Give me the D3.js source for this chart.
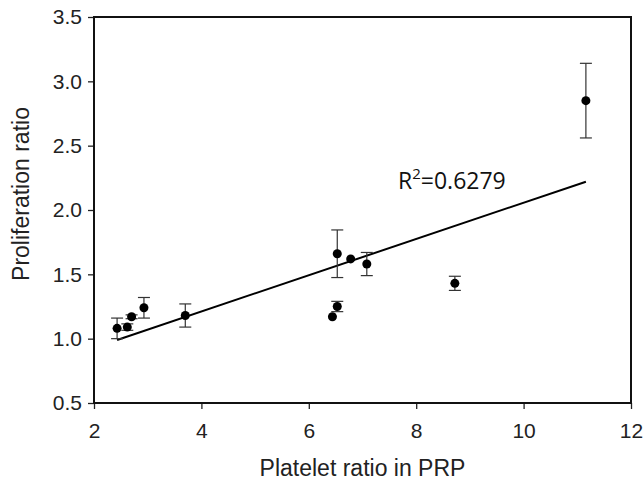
<!DOCTYPE html>
<html>
<head>
  <meta charset="utf-8">
  <title>Proliferation ratio vs platelet ratio</title>
  <script src="https://cdn.jsdelivr.net/npm/d3@7"></script>
  <style>
    body { margin: 0; background: #fff; }
    svg { display: block; }
  </style>
</head>
<body>
<div id="chart"></div>
<script>
// data
var plateletRatio = [2.43, 2.62, 2.70, 2.93, 3.70, 6.44, 6.53, 6.53, 6.78, 7.08, 8.72, 11.16];
var prolifRatio   = [1.08, 1.09, 1.17, 1.24, 1.18, 1.17, 1.25, 1.66, 1.62, 1.58, 1.43, 2.85];
var prolifError   = [0.08, 0.025, 0.015, 0.08, 0.09, 0, 0.04, 0.185, 0, 0.09, 0.055, 0.29];

// linear trend line end points
var trendX = [2.43, 11.16];
var trendY = [0.99, 2.22];
var rSquared = "0.6279";

var xTicks = [2, 4, 6, 8, 10, 12];
var yTicks = [0.5, 1.0, 1.5, 2.0, 2.5, 3.0, 3.5];

var W = 644, H = 484;
var margin = {top: 17, right: 13, bottom: 81, left: 94},
    width = W - margin.left - margin.right,
    height = H - margin.top - margin.bottom;

var svg = d3.select("#chart")
  .append("svg")
    .attr("width", W)
    .attr("height", H);

var g = svg.append("g")
    .attr("transform", "translate(" + margin.left + "," + margin.top + ")");

var x = d3.scaleLinear().domain([2, 12]).range([0, width]);
var y = d3.scaleLinear().domain([0.5, 3.5]).range([height, 0]);

var font = "'Liberation Sans', Arial, sans-serif";

// y axis
var yAxis = g.append("g")
  .call(d3.axisLeft(y).tickValues(yTicks).tickFormat(d3.format(".1f"))
          .tickSize(6).tickPadding(6));
yAxis.select(".domain").remove();
yAxis.selectAll("line").attr("stroke", "#222").attr("stroke-width", 1.3);
yAxis.selectAll("text")
  .attr("font-family", font).attr("font-size", 21).attr("fill", "#222");

// x axis
var xAxis = g.append("g")
  .attr("transform", "translate(0," + height + ")")
  .call(d3.axisBottom(x).tickValues(xTicks).tickSize(6).tickPadding(14));
xAxis.select(".domain").remove();
xAxis.selectAll("line").attr("stroke", "#222").attr("stroke-width", 1.3);
xAxis.selectAll("text")
  .attr("font-family", font).attr("font-size", 21).attr("fill", "#222");

// frame
g.append("rect")
  .attr("x", 0).attr("y", 0)
  .attr("width", width).attr("height", height)
  .attr("fill", "none")
  .attr("stroke", "#111")
  .attr("stroke-width", 2);

// trend line
g.append("line")
  .attr("x1", x(trendX[0])).attr("y1", y(trendY[0]))
  .attr("x2", x(trendX[1])).attr("y2", y(trendY[1]))
  .attr("stroke", "#000")
  .attr("stroke-width", 2);

// error bars
var pts = plateletRatio.map(function(d, i) {
  return {x: d, y: prolifRatio[i], e: prolifError[i]};
});

var eb = g.selectAll(".err")
  .data(pts.filter(function(d) { return d.e > 0; }))
  .enter().append("g")
  .attr("class", "err")
  .attr("stroke", "#333")
  .attr("stroke-width", 1.2);

eb.append("line")
  .attr("x1", function(d) { return x(d.x); })
  .attr("x2", function(d) { return x(d.x); })
  .attr("y1", function(d) { return y(d.y - d.e); })
  .attr("y2", function(d) { return y(d.y + d.e); });
eb.append("line")
  .attr("x1", function(d) { return x(d.x) - 6; })
  .attr("x2", function(d) { return x(d.x) + 6; })
  .attr("y1", function(d) { return y(d.y + d.e); })
  .attr("y2", function(d) { return y(d.y + d.e); });
eb.append("line")
  .attr("x1", function(d) { return x(d.x) - 6; })
  .attr("x2", function(d) { return x(d.x) + 6; })
  .attr("y1", function(d) { return y(d.y - d.e); })
  .attr("y2", function(d) { return y(d.y - d.e); });

// points
g.selectAll(".dot")
  .data(pts)
  .enter().append("circle")
  .attr("class", "dot")
  .attr("cx", function(d) { return x(d.x); })
  .attr("cy", function(d) { return y(d.y); })
  .attr("r", 4.5)
  .attr("fill", "#000");

// R squared label
var rt = svg.append("text")
  .attr("x", 398)
  .attr("y", 189)
  .attr("font-family", "'Open Sans', 'Noto Sans', sans-serif")
  .attr("font-size", 23)
  .attr("fill", "#111");
rt.append("tspan").text("R");
rt.append("tspan").attr("dy", -10).attr("font-size", 15).text("2");
rt.append("tspan").attr("dy", 10).text("=" + rSquared);

// axis titles
svg.append("text")
  .attr("x", margin.left + width / 2)
  .attr("y", 476)
  .attr("text-anchor", "middle")
  .attr("font-family", font)
  .attr("font-size", 23)
  .attr("fill", "#222")
  .text("Platelet ratio in PRP");

svg.append("text")
  .attr("transform", "translate(29,194) rotate(-90)")
  .attr("text-anchor", "middle")
  .attr("font-family", font)
  .attr("font-size", 23)
  .attr("fill", "#222")
  .text("Proliferation ratio");
</script>
</body>
</html>
